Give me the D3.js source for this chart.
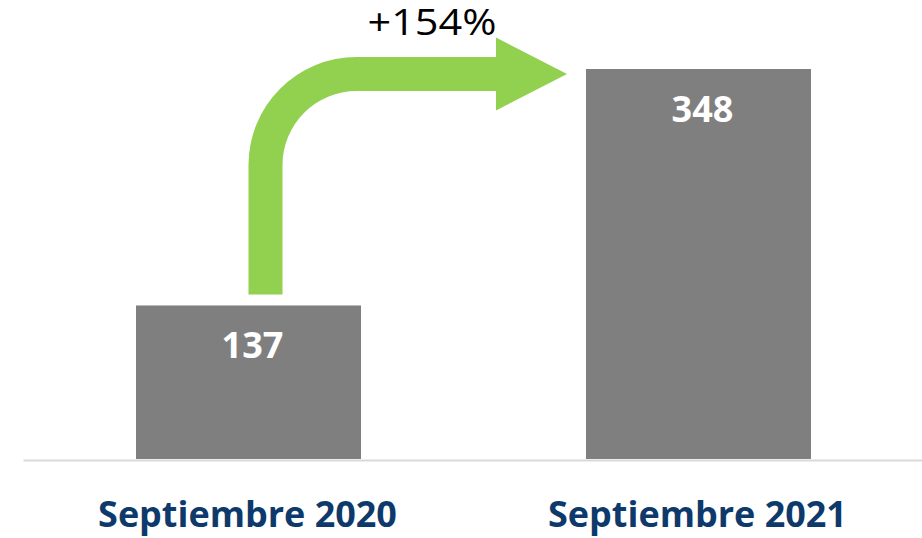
<!DOCTYPE html>
<html>
<head>
<meta charset="utf-8">
<script src="https://cdn.jsdelivr.net/npm/d3@7"></script>
<style>
  html, body { margin: 0; padding: 0; background: #ffffff; }
  svg { display: block; }
</style>
</head>
<body>
<svg id="chart" width="922" height="538"></svg>
<script>
// Chart data.
var categories = ["Septiembre 2020", "Septiembre 2021"];
var values = [137, 348];
var changeLabel = "+154%";

var width = 922;
var height = 538;

var svg = d3.select("#chart");

// Band scale: bars are half a step wide, axis line runs past the edge.
var x = d3.scaleBand()
    .domain(categories)
    .range([23.5, 923.5])
    .paddingInner(0.5)
    .paddingOuter(0.25);

var y = d3.scaleLinear()
    .domain([0, d3.max(values)])
    .range([459, 69]);

// Squeeze a text horizontally around its anchor so it fits a given width.
function fitWidth(sel, target) {
    sel.each(function() {
        var t = d3.select(this);
        var w = this.getComputedTextLength();
        var cx = +t.attr("x");
        var s = target / w;
        t.attr("transform", "translate(" + cx + ",0) scale(" + s + ",1) translate(" + (-cx) + ",0)");
    });
}

// Baseline.
svg.append("line")
    .attr("x1", x.range()[0])
    .attr("x2", width)
    .attr("y1", y(0) + 1.5)
    .attr("y2", y(0) + 1.5)
    .attr("stroke", "#d9d9d9")
    .attr("stroke-width", 2);

// Bars.
svg.selectAll("rect.bar")
    .data(values)
    .enter()
    .append("rect")
    .attr("class", "bar")
    .attr("x", function(d, i) { return x(categories[i]); })
    .attr("y", function(d) { return y(d); })
    .attr("width", x.bandwidth())
    .attr("height", function(d) { return y(0) - y(d); })
    .attr("fill", "#7f7f7f");

// Value labels inside the bars.
svg.selectAll("text.value")
    .data(values)
    .enter()
    .append("text")
    .attr("class", "value")
    .attr("x", function(d, i) { return x(categories[i]) + x.bandwidth() / 2 + 4; })
    .attr("y", function(d) { return y(d) + 53; })
    .attr("text-anchor", "middle")
    .attr("font-family", "'Open Sans', sans-serif")
    .attr("font-weight", "bold")
    .attr("font-size", 36)
    .attr("fill", "#ffffff")
    .text(function(d) { return d; });

// Category labels.
svg.selectAll("text.cat")
    .data(categories)
    .enter()
    .append("text")
    .attr("class", "cat")
    .attr("x", function(d) { return x(d) + x.bandwidth() / 2 - 1; })
    .attr("y", 527)
    .attr("text-anchor", "middle")
    .attr("font-family", "'Open Sans', sans-serif")
    .attr("font-weight", "bold")
    .attr("font-size", 36)
    .attr("fill", "#0e3a6b")
    .text(function(d) { return d; })
    .call(fitWidth, 299);

// Bent arrow from the first bar to the second.
var shaftLeft = x(categories[0]) + x.bandwidth() / 2;
var shaftW = 34;
var shaftBottom = y(values[0]) - 11;
var midY = y(values[1]) + 5;
var outerR = 108;
var innerR = outerR - shaftW;
var headX = 496;
var headHalf = 36.5;
var tipX = x(categories[1]) - 19;
var topY = midY - shaftW / 2;
var botY = midY + shaftW / 2;

var p = d3.path();
p.moveTo(shaftLeft, shaftBottom);
p.lineTo(shaftLeft, topY + outerR);
p.arcTo(shaftLeft, topY, shaftLeft + outerR, topY, outerR);
p.lineTo(headX, topY);
p.lineTo(headX, midY - headHalf);
p.lineTo(tipX, midY);
p.lineTo(headX, midY + headHalf);
p.lineTo(headX, botY);
p.lineTo(shaftLeft + outerR, botY);
p.arcTo(shaftLeft + shaftW, botY, shaftLeft + shaftW, botY + innerR, innerR);
p.lineTo(shaftLeft + shaftW, shaftBottom);
p.closePath();

svg.append("path")
    .attr("d", p.toString())
    .attr("fill", "#92d050");

// Percentage change label.
svg.append("text")
    .attr("x", 432)
    .attr("y", 35)
    .attr("text-anchor", "middle")
    .attr("font-family", "'Open Sans', sans-serif")
    .attr("font-size", 37)
    .attr("fill", "#000000")
    .text(changeLabel)
    .call(fitWidth, 129);
</script>
</body>
</html>
